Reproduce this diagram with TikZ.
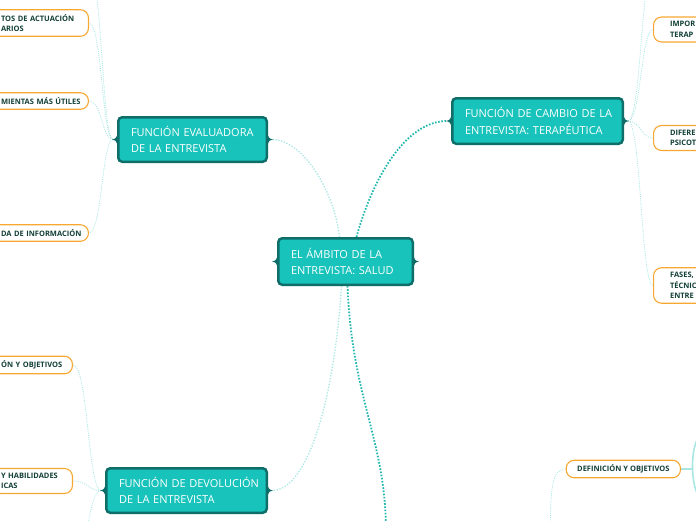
\documentclass[tikz,border=0pt]{standalone}
\usepackage{fontspec}
\setmainfont{Open Sans}
\usetikzlibrary{backgrounds}
\definecolor{tfill}{HTML}{17C3BA}
\definecolor{tdark}{HTML}{0F6E69}
\definecolor{lorange}{HTML}{F7A833}
\definecolor{ltext}{HTML}{123F36}
\definecolor{lline}{HTML}{A8E6E2}
\definecolor{dline}{HTML}{22B8B0}
\tikzset{
 mainbox/.style={draw=tdark, fill=tfill, line width=2.5pt, rounded corners=4pt, text=white,
   font=\fontsize{11}{16.5}\selectfont, align=left, inner xsep=12.75pt, inner ysep=0pt},
 leafbox/.style={draw=lorange, fill=white, line width=1.1pt, rounded corners=8pt, text=ltext,
   font=\fontsize{7.5}{10.5}\selectfont\bfseries, align=left, inner ysep=4.5pt, minimum height=16.5pt},
 single/.style={inner xsep=11pt},
 multi/.style={inner xsep=16.5pt},
 mainlink/.style={draw=lline, line width=1.3pt, dash pattern=on 1.3pt off 1.6pt},
 mainlinkdark/.style={draw=dline, line width=1.8pt, dash pattern=on 1.6pt off 1.6pt},
 leaflink/.style={draw=lline, line width=0.8pt, dash pattern=on 1pt off 1.2pt},
 solidlink/.style={draw=lline, line width=1.6pt},
}
\begin{document}
\begin{tikzpicture}[x=1pt,y=-1pt]
\useasboundingbox (0,0) rectangle (696,520);
\clip (0,0) rectangle (696,520);

% main nodes
\node[mainbox, text width=109pt, minimum height=46.5pt] (c) at (345.5,261.5) {\mbox{EL ÁMBITO DE LA}\\\mbox{ENTREVISTA: SALUD}};
\node[mainbox, text width=123pt, minimum height=44.5pt] (e) at (192.5,139.5) {\mbox{FUNCIÓN EVALUADORA}\\\mbox{DE LA ENTREVISTA}};
\node[mainbox, text width=145pt, minimum height=45.5pt] (k) at (537.5,121) {\mbox{FUNCIÓN DE CAMBIO DE LA}\\\mbox{ENTREVISTA: TERAPÉUTICA}};
\node[mainbox, text width=135pt, minimum height=44.5pt] (d) at (186.5,490.5) {\mbox{FUNCIÓN DE DEVOLUCIÓN}\\\mbox{DE LA ENTREVISTA}};

\foreach \n in {c,e,k,d}{
  \fill[tdark] ([xshift=1pt,yshift=-7pt]\n.west) .. controls ([xshift=-1pt,yshift=-1pt]\n.west) .. ([xshift=-5pt]\n.west)
     .. controls ([xshift=-1pt,yshift=1pt]\n.west) .. ([xshift=1pt,yshift=7pt]\n.west) -- cycle;
  \fill[tdark] ([xshift=-1pt,yshift=-7pt]\n.east) .. controls ([xshift=1pt,yshift=-1pt]\n.east) .. ([xshift=5pt]\n.east)
     .. controls ([xshift=1pt,yshift=1pt]\n.east) .. ([xshift=-1pt,yshift=7pt]\n.east) -- cycle;
}

% leaves (cut by the picture's edge: only the visible part of each text)
\node[leafbox, multi, anchor=east, text width=70.9pt] (l1) at (89,23) {\mbox{TOS DE ACTUACIÓN}\\\mbox{ARIOS}};
\node[leafbox, single, anchor=east, text width=76.4pt] (l2) at (89,101) {\mbox{MIENTAS MÁS ÚTILES}};
\node[leafbox, single, anchor=east, text width=76.4pt] (l3) at (89,233) {\mbox{DA DE INFORMACIÓN}};
\node[leafbox, single, anchor=east, text width=60.4pt] (l4) at (73,365) {\mbox{ÓN Y OBJETIVOS}};
\node[leafbox, multi, anchor=east, text width=54.9pt] (l5) at (73,481) {\mbox{Y HABILIDADES}\\\mbox{ICAS}};
\node[leafbox, multi, anchor=west, text width=40pt] (r1) at (653,29.5) {IMPOR\\TERAP};
\node[leafbox, multi, anchor=west, text width=40pt] (r2) at (653,138) {DIFERE\\PSICOT};
\node[leafbox, multi, anchor=west, text width=40pt] (r3) at (653,285.5) {FASES,\\TÉCNIC\\ENTRE};
\node[leafbox, single, anchor=east] (rd) at (681,469) {DEFINICIÓN Y OBJETIVOS};

\coordinate (b) at (386,532);
\coordinate (et) at (89,-30);
\coordinate (kt) at (653,-30);
\coordinate (db) at (73,560);
\coordinate (rdb) at (550,532);
\coordinate (rdp) at (692,469);

\begin{scope}[on background layer]
\draw[mainlink] ([xshift=-6pt]c.north) .. controls (335,195) and (305,140) .. ([xshift=4pt]e.east);
\draw[mainlinkdark] ([xshift=11pt]c.north) .. controls (372,180) and (405,121) .. ([xshift=-4pt]k.west);
\draw[mainlink] ([xshift=-4pt]c.south) .. controls (335,390) and (310,490.5) .. ([xshift=4pt]d.east);
\draw[mainlinkdark] ([xshift=2pt]c.south) .. controls (352,400) and (386,440) .. (b);

\draw[leaflink] ([xshift=-4pt]e.west) .. controls (102,139.5) and (102,-30) .. (et);
\foreach \t in {l1,l2,l3}{
  \draw[leaflink] ([xshift=-4pt]e.west) .. controls (102,139.5) and (102,0 |- \t.east) .. (\t.east);
}
\draw[leaflink] ([xshift=4pt]k.east) .. controls (641,121) and (641,-30) .. (kt);
\foreach \t in {r1,r2,r3}{
  \draw[leaflink] ([xshift=4pt]k.east) .. controls (641,121) and (641,0 |- \t.west) .. (\t.west);
}
\draw[leaflink] ([xshift=-4pt]d.west) .. controls (88,490.5) and (88,560) .. (db);
\foreach \t in {l4,l5}{
  \draw[leaflink] ([xshift=-4pt]d.west) .. controls (88,490.5) and (88,0 |- \t.east) .. (\t.east);
}
\draw[leaflink] (rd.west) .. controls (551,469) and (551,490) .. (rdb);
\draw[solidlink] (rd.east) -- (rdp);
\draw[solidlink] (697,440) .. controls (691,452) and (691,480) .. (697,493);
\end{scope}
\end{tikzpicture}
\end{document}
